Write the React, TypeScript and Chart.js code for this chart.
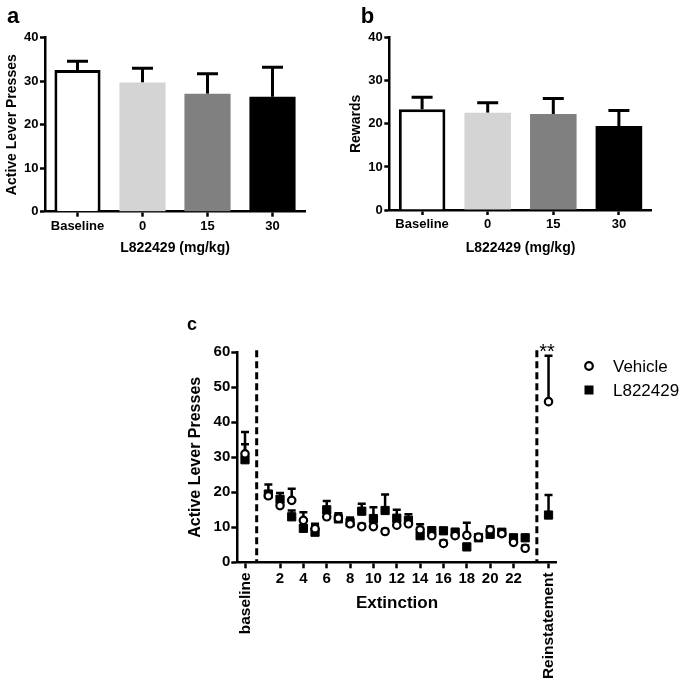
import React, { useEffect, useRef } from 'react';
import { Chart, registerables } from 'chart.js';

Chart.register(...registerables);

const FONT = "'Liberation Sans', Arial, Helvetica, sans-serif";
Chart.defaults.font.family = FONT;

// ---- Panels a & b ----
const doseLabels = ['Baseline', '0', '15', '30'];
const pressMeans = [32.6, 29.7, 27.1, 26.4];
const pressSem = [2.0, 3.3, 4.6, 6.8];
const rewardMeans = [23.4, 22.6, 22.3, 19.5];
const rewardSem = [2.8, 2.3, 3.6, 3.6];
const doseFills = ['#ffffff', '#d4d4d4', '#808080', '#000000'];
const doseBorders = ['#000000', '#d4d4d4', '#808080', '#000000'];
const doseBorderWidths = [3, 0, 0, 0];

// ---- Panel c ----
const sessionX = [-1, 1, 2, 3, 4, 5, 6, 7, 8, 9, 10, 11, 12, 13, 14, 15, 16, 17, 18, 19, 20, 21, 22, 23, 25];
const vehicleMeans = [31.0, 19.0, 16.2, 17.7, 12.0, 9.6, 13.0, 12.6, 11.0, 10.2, 10.2, 8.8, 10.6, 11.0, 9.3, 7.6, 5.4, 7.6, 7.7, 7.2, 9.3, 8.2, 5.7, 4.0, 45.9];
const vehicleSem = [6.2, 1.0, 0.8, 3.3, 2.3, 1.0, 1.0, 0.9, 1.0, 0.8, 0.8, 0.7, 0.9, 1.0, 1.6, 0.9, 0.8, 0.7, 3.6, 0.8, 0.9, 0.8, 0.8, 0.8, 13.1];
const drugMeans = [29.3, 19.5, 18.0, 13.0, 9.7, 8.6, 15.0, 12.4, 11.4, 14.6, 12.5, 14.8, 12.6, 12.0, 7.6, 9.0, 9.0, 8.6, 4.4, 7.0, 8.0, 8.6, 7.0, 7.0, 13.5];
const drugSem = [4.4, 2.7, 1.8, 1.8, 0.8, 2.4, 2.5, 1.6, 1.4, 2.1, 3.2, 4.6, 2.4, 1.7, 0.8, 1.0, 0.8, 0.9, 0.8, 0.8, 0.8, 0.8, 0.8, 0.8, 5.7];
const extinctionTicks = [-1, 2, 4, 6, 8, 10, 12, 14, 16, 18, 20, 22, 25];
const phaseBreaks = [0, 24];
const phaseLabels = ['baseline', 'Reinstatement'];
const seriesNames = ['Vehicle', 'L822429'];

function errorBarPlugin(sems: number[][], lineWidth: number, capHalf: number) {
  return {
    id: 'errorBars',
    beforeDatasetsDraw(chart: any) {
      const ctx = chart.ctx;
      const yScale = chart.scales.y;
      ctx.save();
      ctx.strokeStyle = '#000';
      ctx.lineWidth = lineWidth;
      chart.data.datasets.forEach((ds: any, di: number) => {
        const meta = chart.getDatasetMeta(di);
        meta.data.forEach((el: any, i: number) => {
          const raw = ds.data[i];
          const v = typeof raw === 'number' ? raw : raw.y;
          const top = yScale.getPixelForValue(v + sems[di][i]);
          ctx.beginPath();
          ctx.moveTo(el.x, el.y);
          ctx.lineTo(el.x, top);
          ctx.moveTo(el.x - capHalf, top);
          ctx.lineTo(el.x + capHalf, top);
          ctx.stroke();
        });
      });
      ctx.restore();
    },
  };
}

function letterPlugin(letter: string, x: number, y: number, size: number) {
  return {
    id: 'panelLetter',
    afterDraw(chart: any) {
      const ctx = chart.ctx;
      ctx.save();
      ctx.fillStyle = '#000';
      ctx.font = `bold ${size}px ${FONT}`;
      ctx.textAlign = 'left';
      ctx.textBaseline = 'alphabetic';
      ctx.fillText(letter, x, y);
      ctx.restore();
    },
  };
}

const axisBorder = { display: true, color: '#000', width: 2.5 };
const tickGrid = (len: number) => ({
  display: true,
  drawOnChartArea: false,
  drawTicks: true,
  tickLength: len,
  tickWidth: 2.5,
  tickColor: '#000',
  color: '#000',
});

type Geom = {
  w: number; h: number; left: number; right: number; top: number; bottom: number;
  yTitlePad: number; xTitlePad: number; letter: string; lx: number; ly: number;
};

function barConfig(means: number[], sems: number[], yTitle: string, g: Geom): any {
  return {
    type: 'bar',
    data: {
      labels: doseLabels,
      datasets: [
        {
          data: means,
          backgroundColor: doseFills,
          borderColor: doseBorders,
          borderWidth: doseBorderWidths,
          borderSkipped: 'start',
          barPercentage: 0.71,
          categoryPercentage: 1,
        },
      ],
    },
    options: {
      responsive: false,
      animation: false,
      events: [],
      layout: { padding: { left: 0, top: g.top, right: g.w - g.right, bottom: 0 } },
      plugins: { legend: { display: false }, tooltip: { enabled: false }, title: { display: false } },
      scales: {
        x: {
          type: 'category',
          offset: true,
          grid: { ...tickGrid(5), offset: false },
          border: axisBorder,
          ticks: { color: '#000', font: { family: FONT, size: 13, weight: 'bold' }, padding: 2, maxRotation: 0, autoSkip: false },
          title: {
            display: true,
            text: 'L822429 (mg/kg)',
            color: '#000',
            font: { family: FONT, size: 14, weight: 'bold' },
            padding: { top: 0, bottom: g.xTitlePad },
          },
          afterFit: (s: any) => { s.height = g.h - g.bottom; },
        },
        y: {
          type: 'linear',
          min: 0,
          max: 40,
          ticks: { stepSize: 10, color: '#000', font: { family: FONT, size: 13, weight: 'bold' }, padding: 1.5 },
          grid: tickGrid(5),
          border: axisBorder,
          title: {
            display: true,
            text: yTitle,
            color: '#000',
            font: { family: FONT, size: 14, weight: 'bold' },
            padding: { top: g.yTitlePad, bottom: 0 },
          },
          afterFit: (s: any) => { s.width = g.left; },
        },
      },
    },
    plugins: [errorBarPlugin([sems], 3, 10.5), letterPlugin(g.letter, g.lx, g.ly, 22)],
  };
}

const geomA: Geom = { w: 340, h: 270, left: 45, right: 305, top: 37.7, bottom: 211.7, yTitlePad: 4.1, xTitlePad: 13.6, letter: 'a', lx: 7, ly: 23.3 };
const geomB: Geom = { w: 345, h: 270, left: 49.3, right: 311.7, top: 37.7, bottom: 210, yTitlePad: 8, xTitlePad: 13.6, letter: 'b', lx: 20.7, ly: 23.3 };

const C = { w: 685, h: 395, left: 237.3, right: 556.7, top: 62.3, bottom: 272.3 };

const panelCDecor = {
  id: 'panelCDecor',
  beforeDatasetsDraw(chart: any) {
    const { ctx, scales } = chart;
    const x = scales.x;
    const y = scales.y;
    ctx.save();
    ctx.strokeStyle = '#000';
    ctx.lineWidth = 3;
    ctx.setLineDash([7, 4]);
    phaseBreaks.forEach((b) => {
      const px = x.getPixelForValue(b);
      ctx.beginPath();
      ctx.moveTo(px, y.getPixelForValue(60) - 2);
      ctx.lineTo(px, y.getPixelForValue(0));
      ctx.stroke();
    });
    ctx.restore();
  },
  afterDraw(chart: any) {
    const { ctx, scales } = chart;
    const x = scales.x;
    const y = scales.y;
    ctx.save();
    ctx.fillStyle = '#000';
    // rotated phase labels
    ctx.font = `bold 15.5px ${FONT}`;
    ctx.textAlign = 'right';
    ctx.textBaseline = 'middle';
    [sessionX[0], sessionX[sessionX.length - 1]].forEach((v, i) => {
      ctx.save();
      ctx.translate(x.getPixelForValue(v) + 0.5, y.getPixelForValue(0) + 10);
      ctx.rotate(-Math.PI / 2);
      ctx.fillText(phaseLabels[i], 0, 0);
      ctx.restore();
    });
    // significance
    ctx.font = `20px ${FONT}`;
    ctx.textAlign = 'center';
    ctx.textBaseline = 'alphabetic';
    ctx.fillText('**', 547, 68.4);
    // legend
    ctx.lineWidth = 2.2;
    ctx.strokeStyle = '#000';
    ctx.beginPath();
    ctx.arc(589, 76, 3.8, 0, Math.PI * 2);
    ctx.fillStyle = '#fff';
    ctx.fill();
    ctx.stroke();
    ctx.fillStyle = '#000';
    ctx.fillRect(589 - 4.5, 100 - 4.5, 9, 9);
    ctx.font = `17px ${FONT}`;
    ctx.textAlign = 'left';
    ctx.fillText(seriesNames[0], 613, 82);
    ctx.fillText(seriesNames[1], 613, 106);
    // panel letter
    ctx.font = `bold 18px ${FONT}`;
    ctx.fillText('c', 187, 40);
    ctx.restore();
  },
};

function lineConfig(): any {
  return {
    type: 'scatter',
    data: {
      datasets: [
        {
          label: seriesNames[0],
          data: sessionX.map((v, i) => ({ x: v, y: vehicleMeans[i] })),
          pointStyle: 'circle',
          pointRadius: 3.7,
          pointBorderWidth: 2.2,
          backgroundColor: '#ffffff',
          borderColor: '#000000',
          showLine: false,
          clip: false,
        },
        {
          label: seriesNames[1],
          data: sessionX.map((v, i) => ({ x: v, y: drugMeans[i] })),
          pointStyle: 'rect',
          pointRadius: 5.8,
          pointBorderWidth: 1,
          backgroundColor: '#000000',
          borderColor: '#000000',
          showLine: false,
          clip: false,
        },
      ],
    },
    options: {
      responsive: false,
      animation: false,
      events: [],
      layout: { padding: { left: 0, top: C.top, right: C.w - C.right, bottom: 0 } },
      plugins: { legend: { display: false }, tooltip: { enabled: false }, title: { display: false } },
      scales: {
        x: {
          type: 'linear',
          min: -1.66,
          max: 25.7,
          afterBuildTicks: (s: any) => { s.ticks = extinctionTicks.map((v) => ({ value: v })); },
          ticks: {
            autoSkip: false,
            maxRotation: 0,
            color: '#000',
            padding: 1.7,
            font: { family: FONT, size: 15, weight: 'bold' },
            callback: (v: any) => (v === sessionX[0] || v === sessionX[sessionX.length - 1] ? '' : String(v)),
          },
          grid: tickGrid(6),
          border: axisBorder,
          title: {
            display: true,
            text: 'Extinction',
            color: '#000',
            font: { family: FONT, size: 17, weight: 'bold' },
            padding: { top: 0, bottom: 71.5 },
          },
          afterFit: (s: any) => { s.height = C.h - C.bottom; },
        },
        y: {
          type: 'linear',
          min: 0,
          max: 60,
          ticks: { stepSize: 10, color: '#000', padding: 1, font: { family: FONT, size: 15, weight: 'bold' } },
          grid: tickGrid(6),
          border: axisBorder,
          title: {
            display: true,
            text: 'Active Lever Presses',
            color: '#000',
            font: { family: FONT, size: 16, weight: 'bold' },
            padding: { top: 186.1, bottom: 0 },
          },
          afterFit: (s: any) => { s.width = C.left; },
        },
      },
    },
    plugins: [errorBarPlugin([vehicleSem, drugSem], 2.5, 4), panelCDecor],
  };
}

export default function App() {
  const refA = useRef<HTMLCanvasElement>(null);
  const refB = useRef<HTMLCanvasElement>(null);
  const refC = useRef<HTMLCanvasElement>(null);

  useEffect(() => {
    const charts: Chart[] = [];
    if (refA.current) charts.push(new Chart(refA.current, barConfig(pressMeans, pressSem, 'Active Lever Presses', geomA)));
    if (refB.current) charts.push(new Chart(refB.current, barConfig(rewardMeans, rewardSem, 'Rewards', geomB)));
    if (refC.current) charts.push(new Chart(refC.current, lineConfig()));
    return () => charts.forEach((c) => c.destroy());
  }, []);

  return (
    <div style={{ position: 'fixed', left: 0, top: 0, width: 685, height: 685, background: '#fff' }}>
      <canvas ref={refA} width={geomA.w} height={geomA.h} style={{ position: 'absolute', left: 0, top: 0 }} />
      <canvas ref={refB} width={geomB.w} height={geomB.h} style={{ position: 'absolute', left: 340, top: 0 }} />
      <canvas ref={refC} width={C.w} height={C.h} style={{ position: 'absolute', left: 0, top: 290 }} />
    </div>
  );
}
